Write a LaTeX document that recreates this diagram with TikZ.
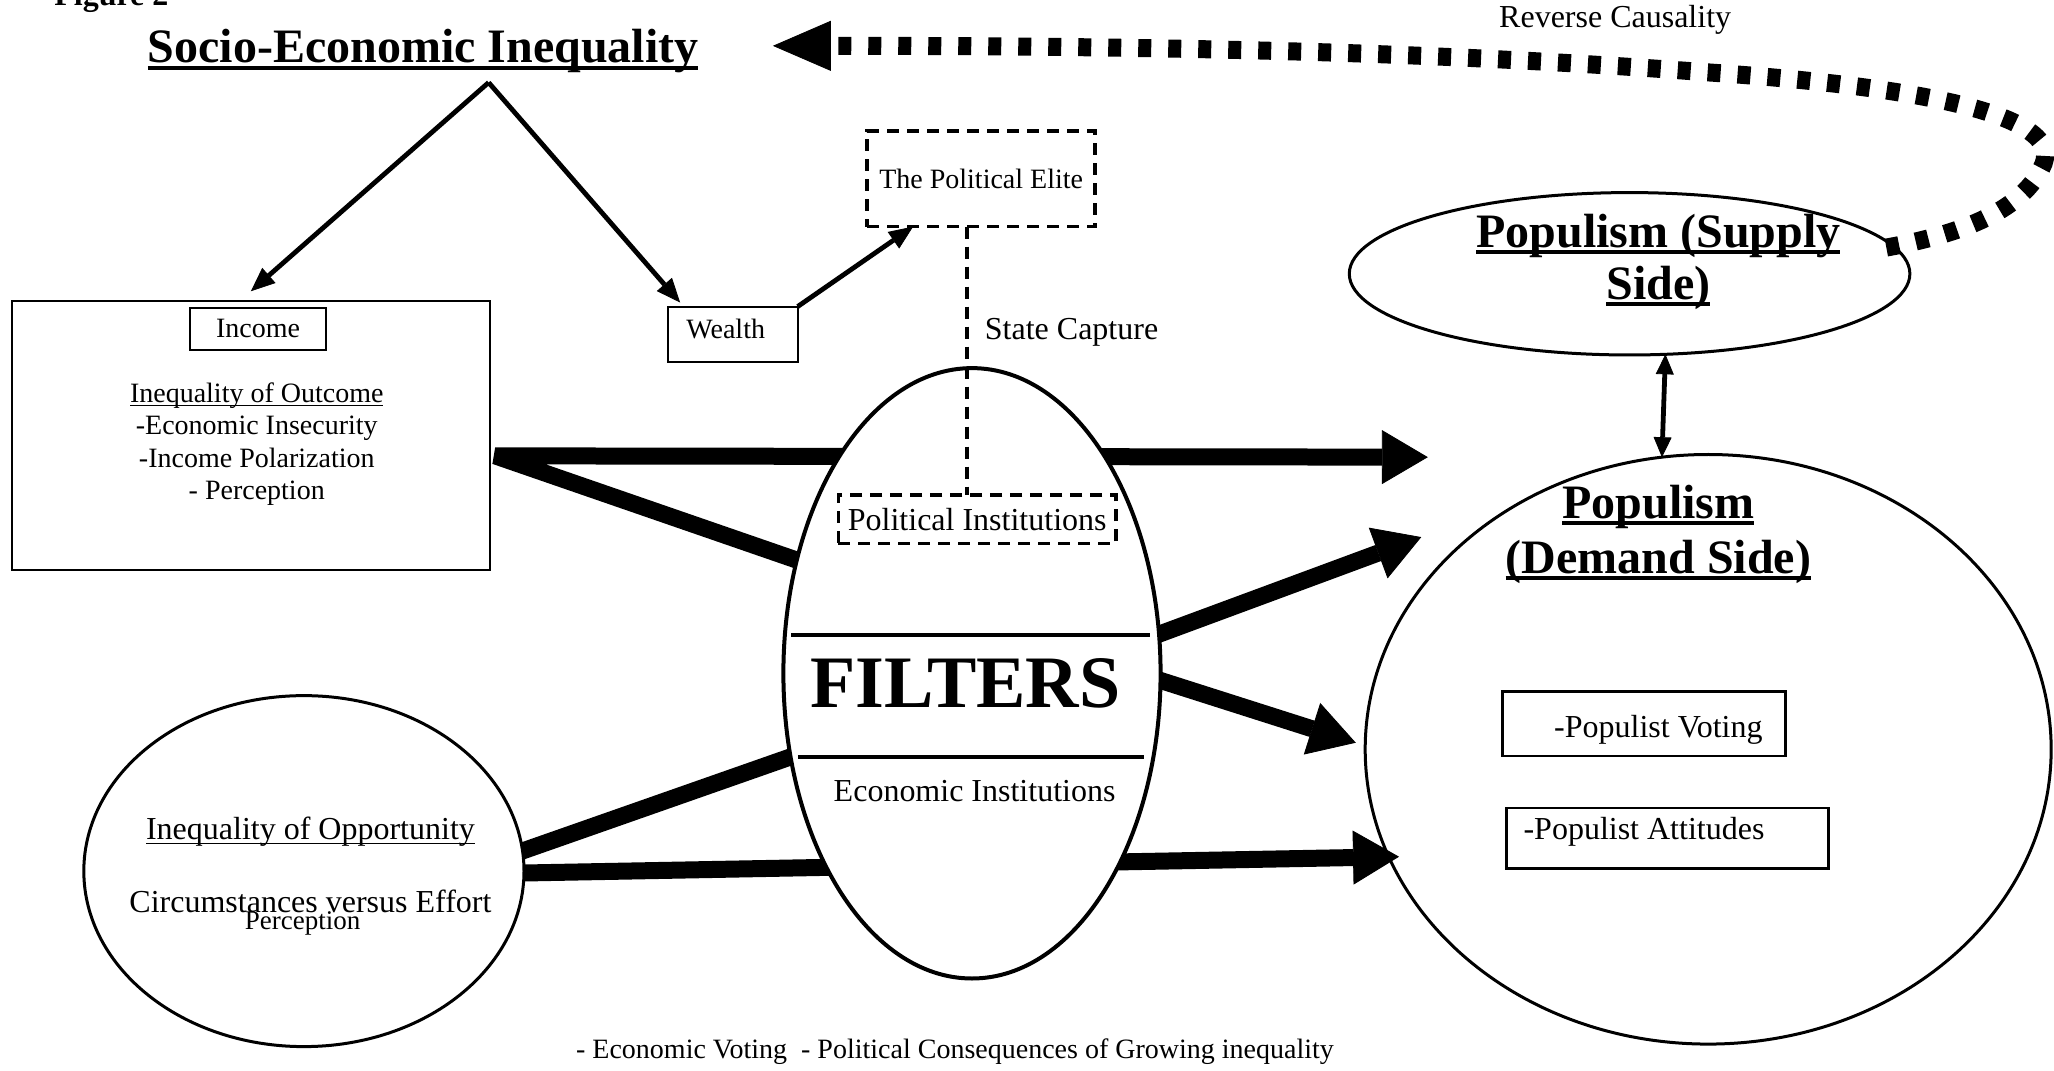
\documentclass[tikz,border=0pt]{standalone}
\usepackage{fontspec}
\setmainfont{Liberation Serif}
\usetikzlibrary{arrows.meta,shapes.geometric}
\newcommand{\myul}[2][0.06em]{\leavevmode\setbox0=\hbox{#2}\rlap{\rule[-0.14em]{\wd0}{#1}}\box0}
\begin{document}
\begin{tikzpicture}[x=0.655pt,y=-0.655pt,
  every node/.style={inner sep=0pt, outer sep=0pt},
  bigtip/.style={-{Triangle[length=23pt,width=27pt,line width=0.4pt]}},
  bigline/.style={line width=8.5pt},
  smallarrow/.style={line width=2.4pt,-{Triangle[length=12pt,width=10pt,line width=0.4pt]}},
  dashbox/.style={draw,line width=1.8pt,dash pattern=on 6pt off 4pt},
  dashline/.style={line width=1.8pt,dash pattern=on 6pt off 4pt},
  plainbox/.style={draw,line width=1.2pt},
  oval/.style={draw,ellipse,line width=1.5pt},
  body/.style={font=\fontsize{16}{19}\selectfont},
  small/.style={font=\fontsize{14}{16.2}\selectfont},
  heading/.style={font=\fontsize{24}{26.2}\selectfont\bfseries, align=center},
  headingb/.style={font=\fontsize{24}{27.5}\selectfont\bfseries, align=center},
]
\useasboundingbox (0,0) rectangle (1568,817);

% ---------- top ----------
\node[font=\fontsize{16}{19}\selectfont\bfseries, anchor=base] (fig) at (85,4) {Figure 2};
\node[heading, anchor=base] (title) at (323,48) {\myul[0.085em]{Socio-Economic Inequality}};
\node[body] (rc) at (1233,15) {Reverse Causality};
\coordinate (apex) at (373,63);

% ---------- income / wealth / elite ----------
\node[plainbox, minimum width=239.1pt, minimum height=134.3pt] (outcome) at (191.5,332.5) {};
\node[draw, line width=1pt, minimum width=68.1pt, minimum height=21pt, small] (income) at (197,251) {Income};
\node[small, align=center] (outtxt) at (196,339) {\myul[0.05em]{Inequality of Outcome}\\-Economic Insecurity\\-Income Polarization\\- Perception};

\node[draw, line width=1pt, minimum width=64.8pt, minimum height=27.5pt] (wealth) at (559.5,255) {};
\node[small] (wealthtxt) at (554,251) {Wealth};
\node[dashbox, minimum width=114pt, minimum height=47.8pt, small] (elite) at (749,136.5) {The Political Elite};

\draw[smallarrow] (apex) -- ([yshift=5pt]outcome.north);
\draw[smallarrow] (apex) -- ([xshift=6pt,yshift=2pt]wealth.north west);
\draw[smallarrow] (wealth.north east) -- ([xshift=23pt]elite.south west);

\node[body] (sc) at (818,254) {State Capture};

% ---------- thick arrows (drawn beneath the ellipses) ----------
\coordinate (oA) at (378,348);
\coordinate (tA) at (1090,349);
\coordinate (bEnd) at (650,442);
\draw[bigline, line join=bevel, {Triangle[length=23pt,width=27pt,line width=0.4pt]}-] (tA) -- (oA) -- (bEnd);
\coordinate (cS) at (850,497);
\coordinate (cT) at (1085,410);
\draw[bigline, bigtip] (cS) -- (cT);
\coordinate (dS) at (850,508);
\coordinate (dT) at (1035,567);
\draw[bigline, bigtip] (dS) -- (dT);
\coordinate (eS) at (375,658);
\coordinate (eE) at (640,565);
\draw[bigline] (eS) -- (eE);
\coordinate (fS) at (370,667);
\coordinate (fT) at (1068,654);
\draw[bigline, bigtip] (fS) -- (fT);

% ---------- filters ----------
\node[oval, fill=white, line width=2pt, minimum width=188.6pt, minimum height=305.2pt] (filters) at (742,514) {};
\draw[line width=2pt] (604,485) -- (878,485);
\draw[line width=2pt] (609,578) -- (873,578);
\node[font=\fontsize{37}{40}\selectfont\bfseries] (filt) at (737,522) {FILTERS};
\node[dashbox, minimum width=138.9pt, minimum height=24.2pt, body] (pinst) at (746,396.5) {Political Institutions};
\node[body] (einst) at (744,604) {Economic Institutions};
\draw[dashline] ([xshift=-7.2pt]elite.south) -- ([xshift=-7.2pt]elite.south |- pinst.north);

% ---------- opportunity ----------
\node[oval, fill=white, minimum width=220.1pt, minimum height=175.5pt] (opp) at (232,665) {};
\node[body] (opt1) at (237,635) {\myul[0.05em]{Inequality of Opportunity}};
\node[body] (opt2) at (237,688) {Circumstances versus Effort};
\node[font=\fontsize{13.5}{15}\selectfont] (opt3) at (231,705) {Perception};

% ---------- supply side ----------
\node[oval, minimum width=280.3pt, minimum height=81.2pt] (supply) at (1244,209) {};
\node[heading] (suptxt) at (1266,200) {\myul[0.085em]{Populism (Supply}\\\myul[0.085em]{Side)}};

% ---------- demand side ----------
\node[oval, minimum width=343pt, minimum height=294.8pt] (demand) at (1304,572) {};
\node[headingb] (demtxt) at (1266,408) {\myul[0.085em]{Populism}\\\myul[0.085em]{(Demand Side)}};
\node[draw, line width=1.2pt, minimum width=141.5pt, minimum height=32.1pt] (vote) at (1255,552.5) {};
\node[body] (votetxt) at (1266,557) {-Populist Voting};
\node[draw, line width=1.2pt, minimum width=161.1pt, minimum height=30.1pt] (attit) at (1273,640) {};
\node[body] (attittxt) at (1255,635) {-Populist Attitudes};

\draw[line width=2.4pt, {Triangle[length=10pt,width=9pt,line width=0.4pt]}-{Triangle[length=10pt,width=9pt,line width=0.4pt]}] (supply.-66) -- (demand.99);

% ---------- reverse causality ----------
\coordinate (rS) at (1440,189);
\coordinate (rE) at (590,35);
\draw[line width=9pt, dash pattern=on 6.5pt off 8.5pt, -{Triangle[length=29pt,width=25pt,line width=0.4pt]}]
  (rS) .. controls (1500,178) and (1545,160) .. (1560,125)
       .. controls (1575,85) and (1450,65) .. (1300,55)
       .. controls (1100,40) and (900,35) .. (rE);

% ---------- bottom ----------
\node[small] (bottom) at (729,803) {- Economic Voting\ \ - Political Consequences of Growing inequality};
\end{tikzpicture}
\end{document}
